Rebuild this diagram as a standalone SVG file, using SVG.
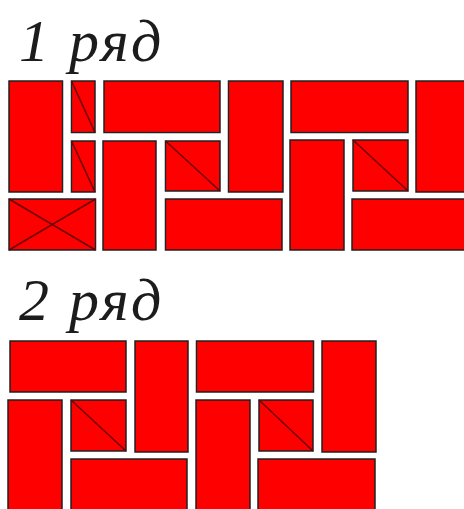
<svg xmlns="http://www.w3.org/2000/svg" width="464" height="509" viewBox="0 0 464 509">
<style>
.b{fill:#f00;stroke:#222;stroke-width:1.5}
.d{fill:none;stroke:#700000;stroke-width:1.6}
.t{font-family:"Liberation Serif",serif;font-style:italic;font-size:60px;letter-spacing:2.5px;fill:#1a1a1a}
</style>
<defs><filter id="s" x="-2%" y="-2%" width="104%" height="104%"><feGaussianBlur stdDeviation="0.6"/></filter></defs>
<rect width="464" height="509" fill="#fff"/>
<g filter="url(#s)">
<text id="label1" class="t" x="19" y="61">1 ряд</text>
<text id="label2" class="t" x="19" y="320">2 ряд</text>
<g id="row1">
<rect id="a1" class="b" x="9" y="81" width="53.5" height="111"/>
<g id="a2"><rect class="b" x="71.5" y="81" width="23.5" height="51.5"/><path class="d" d="M71.5 81L95 132.5"/></g>
<rect id="a3" class="b" x="104" y="81" width="116" height="51.5"/>
<g id="a4"><rect class="b" x="71.5" y="141" width="23.5" height="51"/><path class="d" d="M71.5 141L95 192"/></g>
<rect id="a5" class="b" x="103" y="141" width="53" height="109"/>
<g id="a6"><rect class="b" x="165.5" y="141" width="54.5" height="50"/><path class="d" d="M165.5 141L220 191"/></g>
<g id="a7"><rect class="b" x="9" y="199" width="86.5" height="51"/><path class="d" d="M9 199L95.5 250M9 250L95.5 199"/></g>
<rect id="a8" class="b" x="165.5" y="199" width="116.5" height="51"/>
<rect id="a9" class="b" x="228.500" y="81" width="54.500" height="111"/>
<rect id="a10" class="b" x="291" y="81" width="117" height="51.500"/>
<rect id="a11" class="b" x="416" y="81" width="60" height="111"/>
<rect id="a12" class="b" x="290" y="140" width="54" height="110"/>
<g id="a13"><rect class="b" x="353" y="140" width="55" height="51"/><path class="d" d="M353 140L408 191"/></g>
<rect id="a14" class="b" x="352" y="199" width="124" height="51"/>
</g>
<g id="row2">
<rect id="b1" class="b" x="10" y="341" width="116" height="51"/>
<rect id="b2" class="b" x="135" y="341" width="53" height="111"/>
<rect id="b3" class="b" x="8" y="400" width="54" height="120"/>
<g id="b4"><rect class="b" x="71" y="400" width="55" height="51"/><path class="d" d="M71 400L126 451"/></g>
<rect id="b5" class="b" x="71" y="459" width="116" height="60"/>
<rect id="b6" class="b" x="196.500" y="341" width="117" height="51"/>
<rect id="b7" class="b" x="322" y="341" width="54" height="111"/>
<rect id="b8" class="b" x="196" y="400" width="54" height="120"/>
<g id="b9"><rect class="b" x="259" y="400" width="54" height="51"/><path class="d" d="M259 400L313 451"/></g>
<rect id="b10" class="b" x="258" y="459" width="117" height="60"/>
</g>
</g>
</svg>
